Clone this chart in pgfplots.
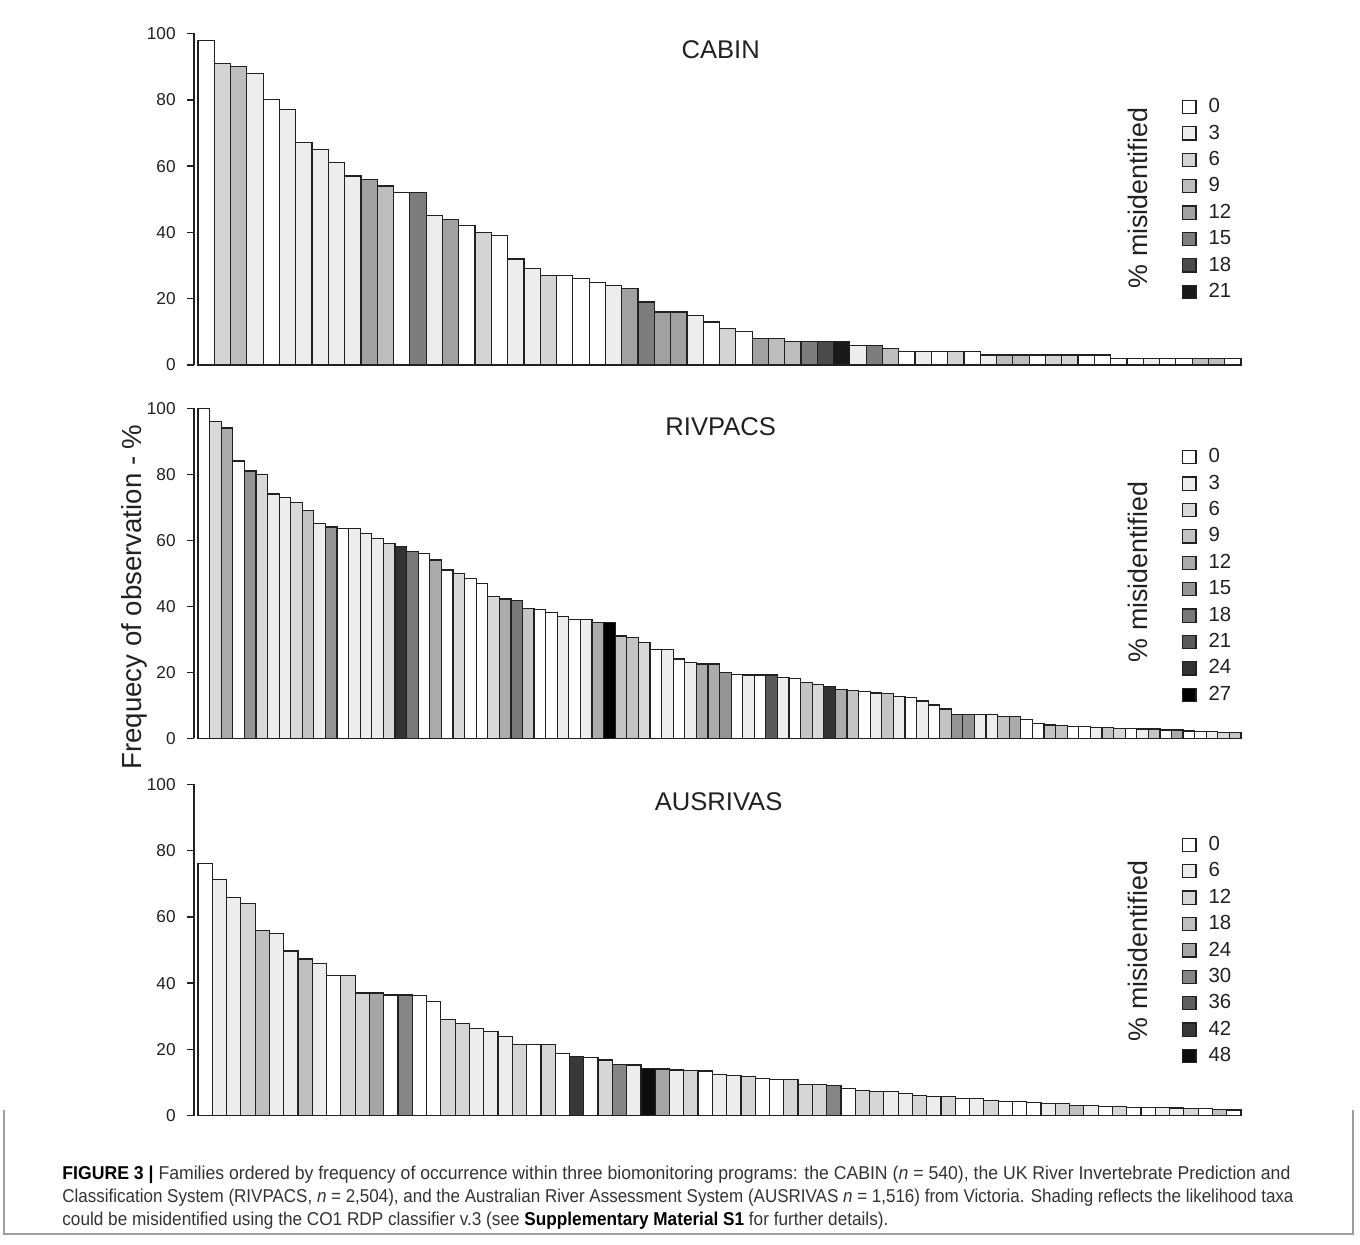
\documentclass[border=0pt]{standalone}
\usepackage{pgfplots}
\pgfplotsset{compat=1.18}
\usepackage{pgfplotstable}
\usepackage{graphicx}
\usepackage{fontspec}
\setmainfont{Liberation Sans}

% ---------------- data: index, frequency (%), % misidentified ----------------
\pgfplotstableread{
i v s
1 98 0
2 91 6
3 90 9
4 88 3
5 80 0
6 77 3
7 67 3
8 65 3
9 61 3
10 57 3
11 56 12
12 54 9
13 52 0
14 52 15
15 45 3
16 44 12
17 42 0
18 40 6
19 39 0
20 32 3
21 29 3
22 27 6
23 27 0
24 26 0
25 25 0
26 24 3
27 23 12
28 19 15
29 16 12
30 16 12
31 15 3
32 13 0
33 11 6
34 10 0
35 8 12
36 8 9
37 7 9
38 7 15
39 7 18
40 7 21
41 6 3
42 6 15
43 5 9
44 4 0
45 4 3
46 4 0
47 4 6
48 4 0
49 3 3
50 3 9
51 3 9
52 3 0
53 3 6
54 3 6
55 3 0
56 3 0
57 2 0
58 2 0
59 2 3
60 2 0
61 2 0
62 2 9
63 2 9
64 2 0
}\cabin

\pgfplotstableread{
i v s
1 100 0
2 96 6
3 94 12
4 84 0
5 81 15
6 80 6
7 74 3
8 73 3
9 71.5 6
10 69 9
11 65 3
12 64 15
13 63.5 0
14 63.5 3
15 62 3
16 60.5 3
17 59 6
18 58 24
19 56.5 18
20 56 0
21 54 12
22 51 0
23 50 6
24 48.5 0
25 47 0
26 43 6
27 42.2 12
28 41.7 18
29 39.4 9
30 39 0
31 38 0
32 37 3
33 36 0
34 36 3
35 35 12
36 35 27
37 31 9
38 30.5 9
39 29 6
40 27 0
41 27 3
42 24 0
43 23 3
44 22.5 12
45 22.5 12
46 20 15
47 19.4 0
48 19.2 3
49 19.2 0
50 19.2 21
51 18.4 3
52 18.2 0
53 17 9
54 16.4 6
55 15.7 24
56 14.8 12
57 14.6 9
58 14.3 0
59 13.7 3
60 13.6 9
61 12.6 3
62 12.4 0
63 11.3 3
64 10.1 0
65 8.9 9
66 7.3 15
67 7.3 15
68 7.3 3
69 7.3 3
70 6.6 9
71 6.6 12
72 5.6 0
73 4.5 0
74 4.0 9
75 3.8 9
76 3.5 0
77 3.5 0
78 3.3 3
79 3.2 9
80 3.0 6
81 3.0 0
82 2.8 3
83 2.8 9
84 2.5 0
85 2.5 12
86 2.2 0
87 2.0 0
88 2.0 3
89 1.8 6
90 1.8 9
}\rivpacs

\pgfplotstableread{
i v s
1 76 0
2 71.3 6
3 65.8 6
4 64 12
5 56 18
6 55 6
7 49.7 6
8 47.3 18
9 46 6
10 42.2 0
11 42.2 12
12 37 12
13 37 24
14 36.4 0
15 36.4 30
16 36.2 0
17 34.4 0
18 29 12
19 27.9 12
20 26.2 6
21 25.4 6
22 24 6
23 21.5 12
24 21.5 0
25 21.5 12
26 18.8 0
27 17.8 42
28 17.5 0
29 16.8 12
30 15.5 30
31 15.3 6
32 14.3 48
33 14.1 24
34 13.8 6
35 13.6 12
36 13.5 0
37 12.5 6
38 12.1 6
39 11.8 12
40 11.3 0
41 11 0
42 11 12
43 9.5 12
44 9.3 12
45 9 30
46 8.3 0
47 7.7 12
48 7.4 12
49 7.3 6
50 6.7 6
51 6.0 12
52 5.7 6
53 5.7 12
54 5.2 0
55 5.2 6
56 4.7 12
57 4.4 0
58 4.2 0
59 4.0 0
60 3.7 6
61 3.7 12
62 3.2 18
63 3.2 6
64 2.7 0
65 2.7 12
66 2.5 0
67 2.4 0
68 2.4 6
69 2.3 6
70 2.2 12
71 2.2 0
72 1.9 18
73 1.7 0
}\ausrivas

% ---------------- shades ----------------
\definecolor{ca0}{gray}{1.00}\definecolor{ca3}{gray}{0.93}\definecolor{ca6}{gray}{0.83}
\definecolor{ca9}{gray}{0.74}\definecolor{ca12}{gray}{0.63}\definecolor{ca15}{gray}{0.49}
\definecolor{ca18}{gray}{0.29}\definecolor{ca21}{gray}{0.10}

\definecolor{ri0}{gray}{1.00}\definecolor{ri3}{gray}{0.93}\definecolor{ri6}{gray}{0.85}
\definecolor{ri9}{gray}{0.77}\definecolor{ri12}{gray}{0.67}\definecolor{ri15}{gray}{0.58}
\definecolor{ri18}{gray}{0.47}\definecolor{ri21}{gray}{0.35}\definecolor{ri24}{gray}{0.20}
\definecolor{ri27}{gray}{0.00}

\definecolor{au0}{gray}{1.00}\definecolor{au6}{gray}{0.93}\definecolor{au12}{gray}{0.84}
\definecolor{au18}{gray}{0.75}\definecolor{au24}{gray}{0.65}\definecolor{au30}{gray}{0.52}
\definecolor{au36}{gray}{0.37}\definecolor{au42}{gray}{0.22}\definecolor{au48}{gray}{0.05}

\definecolor{ink}{gray}{0.13}
\definecolor{frame}{gray}{0.62}

\pgfplotsset{
  panel/.style={
    scale only axis, width=523.5pt,
    ymin=0, ymax=100, ytick={0,20,...,100},
    axis y line*=left, axis x line=none,
    tick align=outside, major tick length=3.5pt,
    clip=false,
    y axis line style={line width=0.75pt, ink},
    ytick style={line width=0.75pt, ink},
    yticklabel style={font=\fontsize{8.6}{10}\selectfont, text=ink, inner sep=0pt, xshift=-5.5pt,
      /pgf/number format/assume math mode=true},
    legend cell align=left,
    legend image code/.code={\draw[##1, draw=ink, line width=0.6pt] (0pt,-3.3pt) rectangle (6.6pt,3.3pt);},
    legend style={draw=none, fill=none, inner sep=0pt, outer sep=0pt, anchor=north west,
      row sep=0pt, column sep=6pt, font=\fontsize{10.2}{12}\selectfont, text=ink,
      nodes={inner sep=0pt, minimum height=13.2pt}},
    every axis title/.style={anchor=center, font=\fontsize{12.8}{14}\selectfont, text=ink},
  },
  bars/.style={ybar, bar width=1, bar shift=0pt, draw=ink, line width=0.6pt, forget plot},
}

\begin{document}
\begin{tikzpicture}
\useasboundingbox (0pt,0pt) rectangle (680pt,622pt);

% ---------------- CABIN ----------------
\begin{axis}[panel, height=165.75pt, at={(97pt,439.5pt)}, anchor=south west,
  xmin=0.255, xmax=64.5,
  title={CABIN}, title style={at={(0.503,0.950)}},
  legend style={at={(0.9438,0.818)}}]
  \pgfplotsinvokeforeach{0,3,...,21}{
    \addplot[bars, fill=ca#1, restrict expr to domain={\thisrow{s}}{#1:#1}] table[x=i,y=v]{\cabin};
  }
  \pgfplotsinvokeforeach{0,3,...,21}{
    \addlegendimage{fill=ca#1}\addlegendentry{#1}
  }
  \node[rotate=90, anchor=center, font=\fontsize{13.4}{15}\selectfont, text=ink] at (rel axis cs:0.9018,0.504) {\% misidentified};
\end{axis}

% ---------------- RIVPACS ----------------
\begin{axis}[panel, height=165pt, at={(97pt,252.85pt)}, anchor=south west,
  xmin=0.155, xmax=90.5,
  title={RIVPACS}, title style={at={(0.503,0.943)}},
  legend style={at={(0.9438,0.892)}},
  ylabel={Frequecy of observation - \%},
  every axis y label/.style={at={(-0.0572,0.428)}, rotate=90, anchor=center,
    font=\fontsize{13.8}{16}\selectfont, text=ink}]
  \pgfplotsinvokeforeach{0,3,...,27}{
    \addplot[bars, fill=ri#1, restrict expr to domain={\thisrow{s}}{#1:#1}] table[x=i,y=v]{\rivpacs};
  }
  \pgfplotsinvokeforeach{0,3,...,27}{
    \addlegendimage{fill=ri#1}\addlegendentry{#1}
  }
  \node[rotate=90, anchor=center, font=\fontsize{13.4}{15}\selectfont, text=ink] at (rel axis cs:0.9018,0.504) {\% misidentified};
\end{axis}

% ---------------- AUSRIVAS ----------------
\begin{axis}[panel, height=165.7pt, at={(97pt,64.15pt)}, anchor=south west,
  xmin=0.22, xmax=73.5,
  title={AUSRIVAS}, title style={at={(0.501,0.947)}},
  legend style={at={(0.9438,0.857)}}]
  \pgfplotsinvokeforeach{0,6,...,48}{
    \addplot[bars, fill=au#1, restrict expr to domain={\thisrow{s}}{#1:#1}] table[x=i,y=v]{\ausrivas};
  }
  \pgfplotsinvokeforeach{0,6,...,48}{
    \addlegendimage{fill=au#1}\addlegendentry{#1}
  }
  \node[rotate=90, anchor=center, font=\fontsize{13.4}{15}\selectfont, text=ink] at (rel axis cs:0.9018,0.497) {\% misidentified};
\end{axis}

% ---------------- caption box ----------------
\draw[frame, line width=0.75pt] (2pt,67pt) -- (2pt,5pt) -- (676.5pt,5pt) -- (676.5pt,67pt);
\begin{scope}[every node/.style={anchor=base west, inner sep=0pt, text=black!80,
    font=\fontsize{9.3}{11}\selectfont}]
\node at (31pt,32.5pt) {\resizebox{614pt}{\height}{\textbf{\color{black}FIGURE 3 |} Families ordered by frequency of occurrence within three biomonitoring programs: the CABIN (\textit{n} = 540), the UK River Invertebrate Prediction and}};
\node at (31pt,21pt) {\resizebox{615.5pt}{\height}{Classification System (RIVPACS, \textit{n} = 2,504), and the Australian River Assessment System (AUSRIVAS \textit{n} = 1,516) from Victoria. Shading reflects the likelihood taxa}};
\node at (31pt,9.5pt) {\resizebox{413pt}{\height}{could be misidentified using the CO1 RDP classifier v.3 (see \textbf{\color{black}Supplementary Material S1} for further details).}};
\end{scope}
\end{tikzpicture}
\end{document}
